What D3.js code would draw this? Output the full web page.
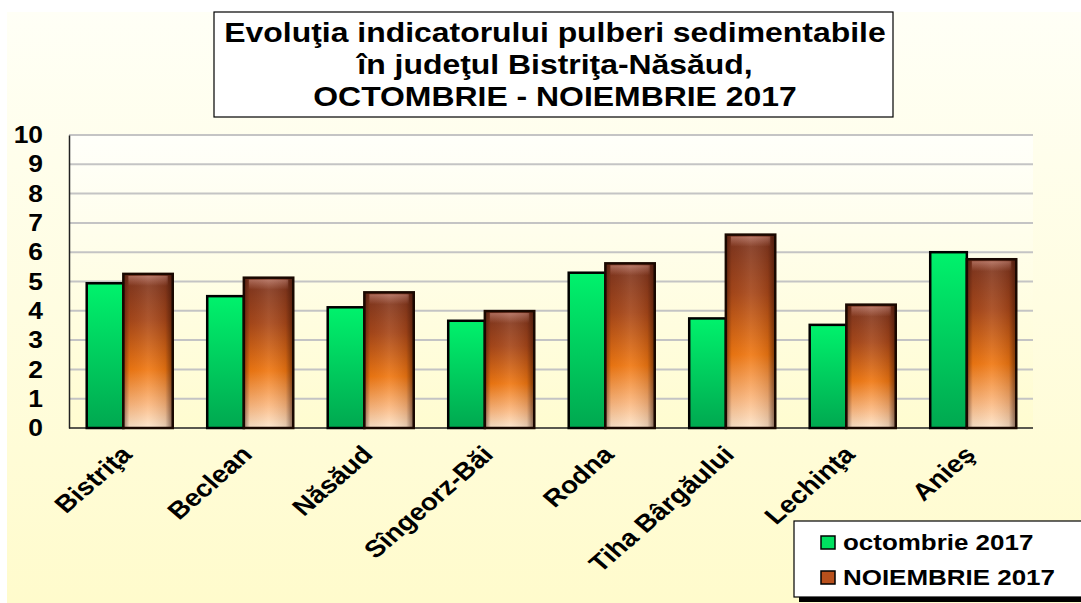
<!DOCTYPE html>
<html>
<head>
<meta charset="utf-8">
<script src="https://cdn.jsdelivr.net/npm/d3@7"></script>
<style>
  body { margin: 0; background: #ffffff; }
  svg { display: block; font-family: Arial, "Liberation Sans", sans-serif; }
</style>
</head>
<body>
<div id="vis"></div>
<script>
// data
const categories = ["Bistriţa", "Beclean", "Năsăud", "Sîngeorz-Băi", "Rodna", "Tiha Bârgăului", "Lechinţa", "Anieş"];
const octValues = [4.94, 4.5, 4.12, 3.66, 5.3, 3.74, 3.52, 6.0];
const novValues = [5.26, 5.13, 4.63, 3.99, 5.62, 6.6, 4.21, 5.76];
const seriesNames = ["octombrie 2017", "NOIEMBRIE 2017"];
const yTicks = [0, 1, 2, 3, 4, 5, 6, 7, 8, 9, 10];
const titleLines = ["Evoluţia indicatorului pulberi sedimentabile", "în judeţul Bistriţa-Năsăud,", "OCTOMBRIE - NOIEMBRIE 2017"];

const FRAME_WIDTH = 1081;
const FRAME_HEIGHT = 603;
const PLOT = {left: 69, right: 1033, top: 135, bottom: 428};
const STRETCH = 1.15; // the original picture is a bit wider than tall

const svg = d3.select("#vis")
    .append("svg")
      .attr("width", FRAME_WIDTH)
      .attr("height", FRAME_HEIGHT);

const defs = svg.append("defs");

// background gradients
const bgGrad = defs.append("linearGradient").attr("id", "bgGrad")
    .attr("x1", 0).attr("y1", 0).attr("x2", 0).attr("y2", 1);
bgGrad.append("stop").attr("offset", "0%").attr("stop-color", "#fffff6");
bgGrad.append("stop").attr("offset", "100%").attr("stop-color", "#fffbcc");

const plotGrad = defs.append("linearGradient").attr("id", "plotGrad")
    .attr("x1", 0).attr("y1", 0).attr("x2", 0).attr("y2", 1);
plotGrad.append("stop").attr("offset", "0%").attr("stop-color", "#fffffa");
plotGrad.append("stop").attr("offset", "100%").attr("stop-color", "#fffcd0");

// green bars
const greenGrad = defs.append("linearGradient").attr("id", "greenGrad")
    .attr("x1", 0).attr("y1", 0).attr("x2", 0).attr("y2", 1);
greenGrad.append("stop").attr("offset", "0%").attr("stop-color", "#00f26c");
greenGrad.append("stop").attr("offset", "100%").attr("stop-color", "#00a850");

// brown bars: vertical colour + horizontal bevel shading
const brownGrad = defs.append("linearGradient").attr("id", "brownGrad")
    .attr("x1", 0).attr("y1", 0).attr("x2", 0).attr("y2", 1);
brownGrad.append("stop").attr("offset", "0%").attr("stop-color", "#7a3420");
brownGrad.append("stop").attr("offset", "30%").attr("stop-color", "#a8481a");
brownGrad.append("stop").attr("offset", "62%").attr("stop-color", "#f07812");
brownGrad.append("stop").attr("offset", "85%").attr("stop-color", "#fbb880");
brownGrad.append("stop").attr("offset", "100%").attr("stop-color", "#fde6cc");

const bevelGrad = defs.append("linearGradient").attr("id", "bevelGrad")
    .attr("x1", 0).attr("y1", 0).attr("x2", 1).attr("y2", 0);
bevelGrad.append("stop").attr("offset", "0%").attr("stop-color", "#2a0a00").attr("stop-opacity", 0.5);
bevelGrad.append("stop").attr("offset", "12%").attr("stop-color", "#2a0a00").attr("stop-opacity", 0.05);
bevelGrad.append("stop").attr("offset", "50%").attr("stop-color", "#ffffff").attr("stop-opacity", 0.08);
bevelGrad.append("stop").attr("offset", "85%").attr("stop-color", "#2a0a00").attr("stop-opacity", 0.12);
bevelGrad.append("stop").attr("offset", "100%").attr("stop-color", "#2a0a00").attr("stop-opacity", 0.6);

const topBevel = defs.append("linearGradient").attr("id", "topBevel")
    .attr("x1", 0).attr("y1", 0).attr("x2", 0).attr("y2", 1);
topBevel.append("stop").attr("offset", "0%").attr("stop-color", "#e0a090").attr("stop-opacity", 0.55);
topBevel.append("stop").attr("offset", "100%").attr("stop-color", "#e0a090").attr("stop-opacity", 0);

// page background
svg.append("rect")
    .attr("x", 7).attr("y", 12)
    .attr("width", FRAME_WIDTH - 7).attr("height", FRAME_HEIGHT - 12)
    .attr("fill", "url(#bgGrad)");

svg.append("rect")
    .attr("x", PLOT.left).attr("y", PLOT.top)
    .attr("width", PLOT.right - PLOT.left).attr("height", PLOT.bottom - PLOT.top)
    .attr("fill", "url(#plotGrad)");

// scales
const X_SCALE = d3.scaleBand()
    .domain(categories)
    .range([PLOT.left, PLOT.right]);

const Y_SCALE = d3.scaleLinear()
    .domain([0, 10])
    .range([PLOT.bottom, PLOT.top]);

const bw = X_SCALE.bandwidth();
const GREEN_OFF = bw * 0.147;
const GREEN_W = bw * 0.304;
const BROWN_W = bw * 0.41;

// gridlines
svg.append("g")
    .selectAll("line")
    .data(yTicks.filter(d => d > 0))
    .enter()
    .append("line")
      .attr("x1", PLOT.left).attr("x2", PLOT.right)
      .attr("y1", d => Y_SCALE(d)).attr("y2", d => Y_SCALE(d))
      .attr("stroke", "#c4c4c4")
      .attr("stroke-width", 2);

// y axis
const yAxis = svg.append("g")
    .attr("transform", "translate(" + PLOT.left + ",0)")
    .call(d3.axisLeft(Y_SCALE).tickValues(yTicks).tickSize(0).tickPadding(26 / 1.1));
yAxis.select(".domain").attr("stroke", "#222").attr("stroke-width", 1.5);
yAxis.selectAll("text")
    .attr("transform", "scale(1.1,1)")
    .attr("font-size", "24px")
    .attr("font-weight", "bold")
    .attr("fill", "#000")
    .attr("font-family", "Arial, 'Liberation Sans', sans-serif");

// x axis line
svg.append("line")
    .attr("x1", PLOT.left).attr("x2", PLOT.right)
    .attr("y1", PLOT.bottom).attr("y2", PLOT.bottom)
    .attr("stroke", "#222").attr("stroke-width", 1.5);

// green bars
svg.append("g")
    .selectAll("rect")
    .data(octValues)
    .enter()
    .append("rect")
      .attr("x", (d, i) => X_SCALE(categories[i]) + GREEN_OFF)
      .attr("y", d => Y_SCALE(d))
      .attr("width", GREEN_W)
      .attr("height", d => PLOT.bottom - Y_SCALE(d))
      .attr("fill", "url(#greenGrad)")
      .attr("stroke", "#000")
      .attr("stroke-width", 2.5);

// brown bars
const brown = svg.append("g")
    .selectAll("g")
    .data(novValues)
    .enter()
    .append("g");

brown.append("rect")
    .attr("x", (d, i) => X_SCALE(categories[i]) + GREEN_OFF + GREEN_W)
    .attr("y", d => Y_SCALE(d))
    .attr("width", BROWN_W)
    .attr("height", d => PLOT.bottom - Y_SCALE(d))
    .attr("fill", "url(#brownGrad)");

brown.append("rect")
    .attr("x", (d, i) => X_SCALE(categories[i]) + GREEN_OFF + GREEN_W + 5)
    .attr("y", d => Y_SCALE(d) + 2)
    .attr("width", BROWN_W - 10)
    .attr("height", 10)
    .attr("fill", "url(#topBevel)");

brown.append("rect")
    .attr("x", (d, i) => X_SCALE(categories[i]) + GREEN_OFF + GREEN_W)
    .attr("y", d => Y_SCALE(d))
    .attr("width", BROWN_W)
    .attr("height", d => PLOT.bottom - Y_SCALE(d))
    .attr("fill", "url(#bevelGrad)")
    .attr("stroke", "#1a0800")
    .attr("stroke-width", 2.5);

// category labels
svg.append("g")
    .selectAll("text")
    .data(categories)
    .enter()
    .append("text")
      .attr("transform", d => "translate(" + (X_SCALE(d) + bw / 2 + 4) + "," + (PLOT.bottom + 28) + ") scale(" + STRETCH + ",1) rotate(-45)")
      .attr("text-anchor", "end")
      .attr("font-size", "24px")
      .attr("font-weight", "bold")
      .attr("fill", "#000")
      .text(d => d);

// title box
svg.append("rect")
    .attr("x", 214).attr("y", 12)
    .attr("width", 679).attr("height", 105)
    .attr("fill", "#ffffff")
    .attr("stroke", "#000")
    .attr("stroke-width", 1.2);

svg.append("g")
    .selectAll("text")
    .data(titleLines)
    .enter()
    .append("text")
      .attr("transform", (d, i) => "translate(555," + (42 + i * 32) + ") scale(1.14,1)")
      .attr("text-anchor", "middle")
      .attr("font-size", "28px")
      .attr("font-weight", "bold")
      .attr("fill", "#000")
      .text(d => d);

// legend
svg.append("rect")
    .attr("x", 799).attr("y", 526)
    .attr("width", 290).attr("height", 76)
    .attr("fill", "#000");
svg.append("rect")
    .attr("x", 794).attr("y", 521)
    .attr("width", 290).attr("height", 76)
    .attr("fill", "#ffffff")
    .attr("stroke", "#000")
    .attr("stroke-width", 1.2);

const legendFills = ["#00e060", "#b8501c"];
const legend = svg.append("g")
    .selectAll("g")
    .data(seriesNames)
    .enter()
    .append("g")
      .attr("transform", (d, i) => "translate(821," + (536 + i * 35) + ")");

legend.append("rect")
    .attr("width", 14).attr("height", 13)
    .attr("fill", (d, i) => legendFills[i])
    .attr("stroke", "#000")
    .attr("stroke-width", 1.5);

legend.append("text")
    .attr("transform", "translate(22,14) scale(1.18,1)")
    .attr("font-size", "22px")
    .attr("font-weight", "bold")
    .attr("fill", "#000")
    .text(d => d);
</script>
</body>
</html>
